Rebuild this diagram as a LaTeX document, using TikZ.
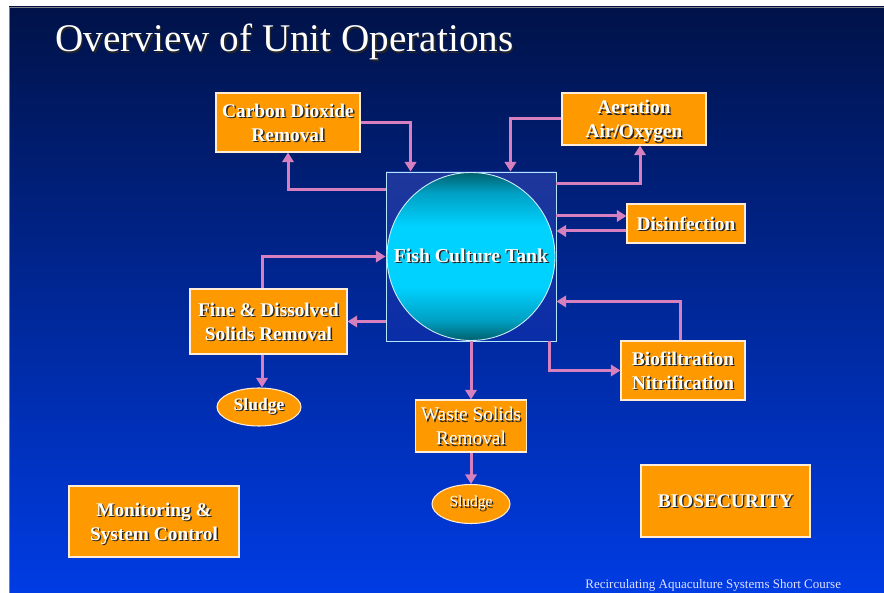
\documentclass[tikz,border=0pt]{standalone}
\usepackage{fontspec}
\setmainfont{Liberation Serif}
\usetikzlibrary{arrows.meta,shapes.geometric}

\definecolor{slidetop}{RGB}{0,18,72}
\definecolor{slidebot}{RGB}{0,60,228}
\definecolor{boxorange}{RGB}{255,153,0}
\definecolor{pipepink}{RGB}{214,128,192}
\definecolor{tanktop}{RGB}{30,55,155}
\definecolor{tankbot}{RGB}{10,45,168}
\definecolor{waterdark}{RGB}{0,96,108}
\definecolor{watermid}{RGB}{0,160,195}
\definecolor{waterlight}{RGB}{0,210,255}

% water in the tank: dark rim top and bottom, bright band in the middle
\pgfdeclareverticalshading{water}{100bp}{color(0bp)=(waterdark);
  color(25bp)=(waterdark); color(31bp)=(watermid); color(41bp)=(waterlight);
  color(59bp)=(waterlight); color(69bp)=(watermid); color(75bp)=(waterdark);
  color(100bp)=(waterdark)}

% white text with a dark drop shadow
\newcommand{\shd}[1]{\makebox[0pt][l]{\hspace{0.8pt}\raisebox{-0.8pt}{\color{black!85}#1}}#1}

\tikzset{
  unitbox/.style={draw=white!85!orange, line width=0.6pt, fill=boxorange,
    text=white, align=center, inner sep=0pt, text depth=0pt,
    font=\bfseries\fontsize{11}{13.6}\selectfont},
  sludgebox/.style={ellipse, draw=white!85!orange, line width=0.6pt,
    fill=boxorange, text=white, inner sep=0pt},
  flow/.style={pipepink, line width=0.6mm,
    -{Triangle[width=6.5pt,length=5.5pt]}},
}

\begin{document}
\begin{tikzpicture}[x=0.2mm, y=-0.2mm]
    \useasboundingbox (0,0) rectangle (884,593);
    \fill[white] (0,0) rectangle (884,593);
    \shade[top color=slidetop, bottom color=slidebot] (9,7) rectangle (884,593);
    \draw[gray, line width=0.5pt] (9,593) -- (9,7) -- (884,7);

    \node[anchor=base west, inner sep=0pt, text=white,
      font=\fontsize{22.3}{26}\selectfont]
      (title) at (55,52) {\shd{Overview of Unit Operations}};

    % tank in the middle
    \node[draw=white!70!cyan, line width=0.5pt, top color=tanktop,
      bottom color=tankbot, minimum width=34mm, minimum height=33.8mm]
      (tank) at (471,256.5) {};
    \node[circle, draw=white!80!cyan, line width=0.5pt, shading=water,
      minimum size=33.6mm, inner sep=0pt, text=white,
      font=\bfseries\fontsize{11.2}{13.6}\selectfont]
      (pond) at (471,256.5) {\shd{Fish Culture Tank}};

    % unit operations
    \node[unitbox, minimum width=28.8mm, minimum height=11.8mm]
      (co2) at (288,122.5) {\shd{Carbon Dioxide}\\\shd{Removal}};
    \node[unitbox, minimum width=28.8mm, minimum height=10.4mm]
      (aer) at (634,119) {\shd{Aeration}\\\shd{Air/Oxygen}};
    \node[unitbox, minimum width=23.6mm, minimum height=7.8mm]
      (dis) at (686,223.5) {\shd{Disinfection}};
    \node[unitbox, minimum width=31.4mm, minimum height=13mm]
      (fine) at (268.5,321.5) {\shd{Fine \& Dissolved}\\\shd{Solids Removal}};
    \node[unitbox, minimum width=24.8mm, minimum height=11.8mm]
      (bio) at (683,370.5) {\shd{Biofiltration}\\\shd{Nitrification}};
    \node[unitbox, font=\fontsize{11}{13.6}\selectfont, minimum width=22.2mm,
      minimum height=10.4mm]
      (waste) at (471,426) {\shd{Waste Solids}\\\shd{Removal}};
    \node[unitbox, minimum width=34mm, minimum height=14.2mm]
      (mon) at (154,521.5) {\shd{Monitoring \&}\\\shd{System Control}};
    \node[unitbox, minimum width=33.8mm, minimum height=14.4mm]
      (biosec) at (725.5,501) {\shd{BIOSECURITY}};

    \node[sludgebox, font=\bfseries\fontsize{10}{12}\selectfont,
      minimum width=16.8mm, minimum height=7.6mm]
      (sludge1) at (259,407) {\shd{Sludge}};
    \node[sludgebox, font=\fontsize{8.8}{10}\selectfont,
      minimum width=15.6mm, minimum height=7.8mm]
      (sludge2) at (471,504) {\shd{Sludge}};

    \node[anchor=base west, inner sep=0pt, text=white!88!blue,
      font=\fontsize{7.4}{9}\selectfont]
      (course) at (585,589) {Recirculating Aquaculture Systems Short Course};

    % flows
    \coordinate (dis in) at ([shift={(0,-7.5)}]dis.west);
    \coordinate (dis out) at ([shift={(0,7.5)}]dis.west);
    \coordinate (fine in) at ([shift={(-6.5,0)}]fine.north);
    \coordinate (fine out) at ([shift={(-6.5,0)}]fine.south);

    \draw[flow] (co2.east) -| ([shift={(25,0)}]tank.north west);
    \draw[flow] ([shift={(0,18)}]tank.north west) -| (co2.south);
    \draw[flow] (aer.west) -| ([shift={(-46,0)}]tank.north east);
    \draw[flow] ([shift={(0,12)}]tank.north east) -| ([shift={(6,0)}]aer.south);
    \draw[flow] (tank.east |- dis in) -- (dis in);
    \draw[flow] (dis out) -- (tank.east |- dis out);
    \draw[flow] (fine in) |- (tank.west);
    \draw[flow] (tank.west |- fine.east) -- (fine.east);
    \draw[flow] (fine out) -- (fine out |- sludge1.north);
    \draw[flow] (tank.south) -- (waste.north);
    \draw[flow] (waste.south) -- (sludge2.north);
    \draw[flow] ([shift={(-7,0)}]tank.south east) |- (bio.west);
    \draw[flow] ([shift={(-3,0)}]bio.north) |- ([shift={(0,-40)}]tank.south east);
\end{tikzpicture}
\end{document}
